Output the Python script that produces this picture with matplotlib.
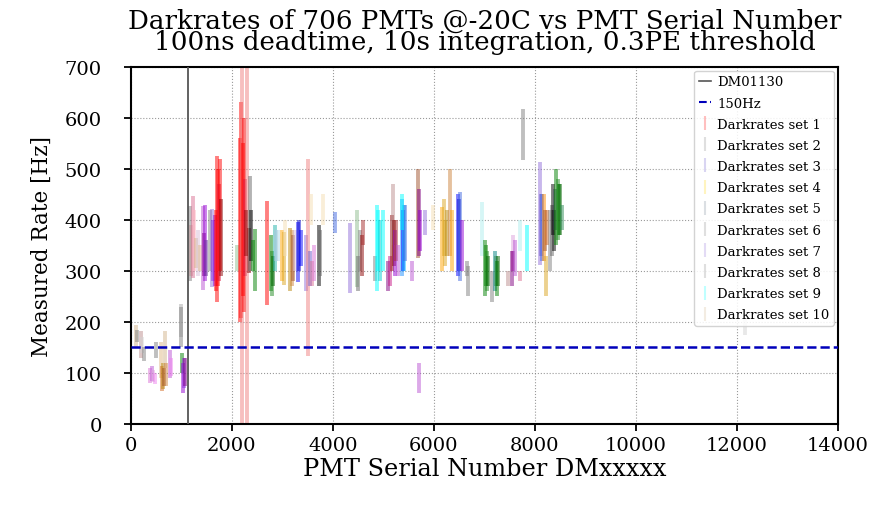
import numpy as np
import matplotlib
matplotlib.use("Agg")
import matplotlib.pyplot as plt
from matplotlib.lines import Line2D

plt.rcParams["font.family"] = ["DejaVu Serif"]

# per-PMT bars: serial number, low / high rate [Hz], colour
serial = [100, 130, 200, 230, 260, 380, 410, 440, 470, 500, 600, 620, 640, 660, 680, 700, 770, 790,
          990, 1000, 1020, 1040, 1060, 1080,
          1170, 1190, 1230, 1250, 1290, 1330, 1370, 1430, 1450, 1470, 1490, 1570, 1600, 1630,
          1660, 1680, 1700, 1720, 1740, 1760, 1780,
          2100, 2160, 2180, 2200, 2220, 2240, 2260, 2300, 2280, 2330, 2360, 2380, 2420, 2450,
          2700, 2770, 2790, 2810, 2850, 2880, 2910, 2990, 3030, 3060, 3150, 3190, 3220, 3250,
          3300, 3330, 3360, 3460, 3500, 3540, 3580, 3620, 3720, 3750, 3800, 3560, 4040,
          4340, 4470, 4500, 4530, 4570, 4590, 4830, 4870, 4900, 4930, 4990, 5090, 5130, 5170,
          5190, 5200, 5220, 5240, 5290, 5370, 5390, 5410, 5430, 5360, 5560, 5680, 5700, 5720,
          5700, 5820,
          5990, 6160, 6190, 6220, 6260, 6320, 6360, 6480, 6500, 6520, 6550, 6650, 6680,
          6950, 7010, 7030, 7050, 7070, 7150, 7210, 7230, 7250, 7270, 7470, 7540, 7560, 7570,
          7600, 7700, 7710, 7840, 7760,
          8100, 8120, 8140, 8180, 8200, 8220, 8240, 8300, 8340, 8360, 8380, 8400, 8420, 8450,
          8470, 8500, 8530,
          12150]
rate_lo = [150, 160, 130, 140, 124, 80, 85, 82, 78, 130, 90, 64, 68, 75, 110, 75, 90, 95,
           170, 150, 100, 60, 70, 75,
           280, 290, 286, 300, 305, 290, 300, 262, 290, 280, 290, 300, 268, 280,
           270, 260, 240, 270, 280, 300, 290,
           300, 200, 207, -50, 250, 220, 290, -50, 330, 295, 300, 320, 300, 260,
           233, 260, 250, 270, 300, 320, 320, 280, 273, 330, 260, 270, 280, 300,
           278, 300, 310, 260, 133, 270, 270, 280, 270, 290, 390, 390, 375,
           256, 268, 260, 300, 290, 350, 280, 260, 300, 280, 300, 260, 270, 300,
           350, 310, 290, 320, 290, 290, 300, 300, 320, 380, 280, 325, 330, 340,
           60, 370,
           380, 300, 330, 310, 330, 330, 300, 290, 300, 280, 300, 290, 250,
           330, 250, 270, 260, 270, 240, 260, 270, 250, 270, 270, 270, 300, 340,
           290, 280, 340, 300, 517,
           311, 330, 320, 320, 340, 250, 350, 300, 330, 370, 340, 380, 350, 360,
           370, 370, 380,
           175]
rate_hi = [194, 185, 182, 170, 150, 110, 113, 105, 100, 160, 160, 113, 120, 110, 182, 120, 145, 130,
           235, 230, 140, 120, 130, 130,
           428, 390, 446, 420, 364, 380, 350, 428, 375, 430, 360, 420, 422, 400,
           410, 420, 526, 500, 470, 520, 440,
           350, 560, 632, 800, 550, 600, 480, 800, 420, 385, 487, 420, 360, 383,
           437, 370, 340, 330, 390, 380, 380, 380, 377, 400, 385, 380, 370, 380,
           395, 400, 380, 370, 520, 340, 320, 350, 390, 380, 450, 450, 415,
           393, 420, 330, 380, 370, 400, 330, 430, 420, 400, 420, 320, 330, 410,
           470, 400, 380, 400, 350, 440, 420, 430, 430, 450, 320, 500, 460, 420,
           120, 420,
           430, 425, 440, 400, 420, 500, 420, 450, 440, 455, 400, 320, 310,
           436, 360, 350, 340, 330, 300, 340, 330, 320, 330, 300, 340, 340, 370,
           360, 300, 400, 390, 618,
           514, 450, 450, 450, 420, 330, 420, 420, 430, 470, 420, 460, 500, 480,
           470, 470, 430,
           205]
bar_colour = ["tan", "gray", "rosybrown", "lightgray", "gray", "orchid", "mediumorchid", "plum",
              "violet", "gray", "burlywood", "chocolate", "darkgoldenrod", "sienna", "tan", "peru",
              "mediumorchid", "violet",
              "darkgray", "gray", "green", "darkviolet", "blueviolet", "purple",
              "gray", "rosybrown", "palevioletred", "lightpink", "tan", "thistle", "burlywood",
              "mediumorchid", "purple", "darkviolet", "rebeccapurple", "gray", "mediumpurple",
              "blueviolet", "darkviolet", "red", "red", "red", "crimson", "red", "darkred",
              "darkseagreen", "red", "red", "lightcoral", "red", "red", "crimson", "lightcoral",
              "darkred", "darkred", "dimgray", "black", "green", "green",
              "red", "green", "forestgreen", "darkgreen", "lightseagreen", "lightsteelblue",
              "lightblue", "orange", "goldenrod", "wheat", "darkgoldenrod", "peru", "sienna",
              "thistle", "blue", "mediumblue", "blue", "mediumpurple", "lightcoral", "slateblue",
              "palevioletred", "orchid", "black", "dimgray", "wheat", "wheat", "royalblue",
              "mediumpurple", "darkseagreen", "dimgray", "gray", "darkred", "brown", "gray", "cyan",
              "aqua", "darkturquoise", "cyan", "purple", "mediumvioletred", "darkred",
              "rosybrown", "maroon", "darkviolet", "brown", "mediumorchid", "dodgerblue", "blue",
              "deepskyblue", "royalblue", "cyan", "mediumorchid", "sienna", "purple", "darkviolet",
              "mediumorchid", "mediumpurple",
              "wheat", "orange", "goldenrod", "goldenrod", "darkgoldenrod", "peru", "orange",
              "blue", "mediumblue", "royalblue", "darkviolet", "gray", "gray",
              "paleturquoise", "green", "green", "forestgreen", "darkgreen", "gray", "teal",
              "seagreen", "green", "darkgreen", "rosybrown", "purple", "darkmagenta", "plum",
              "mediumorchid", "palevioletred", "paleturquoise", "cyan", "gray",
              "mediumpurple", "slateblue", "royalblue", "darkorange", "sienna", "goldenrod",
              "chocolate", "gray", "dimgray", "black", "black", "darkslategray", "green",
              "forestgreen", "green", "darkgreen", "seagreen",
              "lightgray"]

set_names = ["Darkrates set %d" % i for i in range(1, 11)]
set_colours = ["red", "gray", "slateblue", "gold", "slategray", "gray",
               "mediumpurple", "gray", "cyan", "tan"]
ref_serial = 1130
threshold = 150

fig = plt.figure(figsize=(8.84, 5.06), dpi=100)
ax = fig.add_axes([0.148, 0.16, 0.800, 0.706])

ax.vlines(serial, rate_lo, rate_hi, colors=bar_colour, alpha=0.5, lw=2.8, zorder=2)
ax.axvline(ref_serial, color="#555555", lw=1.3, zorder=3)
ax.axhline(threshold, color="#0000bb", lw=1.8, ls="--", zorder=3)

ax.set_xlim(0, 14000)
ax.set_ylim(0, 700)
ax.set_xticks(np.arange(0, 14001, 2000))
ax.set_yticks(np.arange(0, 701, 100))
ax.grid(True, ls=":", color="gray", lw=0.8, alpha=0.8)
ax.tick_params(labelsize=14, length=5, width=1.3)
ax.tick_params(axis="y", pad=16)
for s in ax.spines.values():
    s.set_linewidth(1.5)

ax.set_xlabel("PMT Serial Number DMxxxxx", fontsize=17.3, labelpad=2)
ax.set_ylabel("Measured Rate [Hz]", fontsize=15.5, labelpad=8)
ax.set_title("Darkrates of 706 PMTs @-20C vs PMT Serial Number\n"
             "100ns deadtime, 10s integration, 0.3PE threshold", fontsize=18.8,
             linespacing=0.78, pad=13)

handles = [Line2D([], [], color="#555555", lw=1.2),
           Line2D([], [], color="#0000bb", lw=1.5, ls="--")]
handles += [Line2D([], [], color=c, marker="|", ls="none", ms=10, mew=1.5, alpha=0.25)
            for c in set_colours]
ax.legend(handles, ["DM01130", "150Hz"] + set_names, loc="upper right", fontsize=9.5,
          labelspacing=0.62, borderaxespad=0.3, handlelength=0.9, handletextpad=0.5,
          borderpad=0.35, framealpha=0.85)

fig.savefig("out.png", dpi=100)
